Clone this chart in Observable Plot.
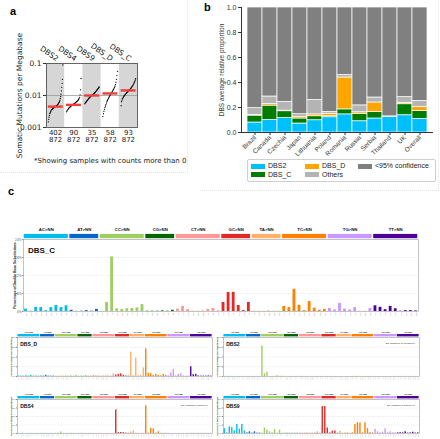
<!DOCTYPE html>
<html><head><meta charset="utf-8">
<script src="https://cdn.jsdelivr.net/npm/d3@7"></script>
<script src="https://cdn.jsdelivr.net/npm/@observablehq/plot@0.6"></script>
<style>
body{margin:0;background:#fff;}
#root{position:relative;width:440px;height:439px;overflow:hidden;font-family:"DejaVu Sans",sans-serif;background:#fff;}
.abs{position:absolute;}
.plab{position:absolute;font-weight:bold;font-family:"Liberation Sans",Arial,sans-serif;font-size:11px;color:#000;}
.sep{position:absolute;border-color:#e4e4e4;border-style:dotted;border-width:0;}
</style></head><body><div id="root"></div>
<script>
// ---------------- Panel a data ----------------
const tmbSigs = ["DBS2","DBS4","DBS9","DBS_D","DBS_C"];
const tmbNum = ["402","90","35","58","93"];
const tmbTotal = ["872","872","872","872","872"];
const tmbMedian = [0.0045,0.0051,0.010,0.0116,0.0144];
const tmbDBS2 = [0.0015,0.0018,0.0021,0.0024,0.0027,0.0029,0.0031,0.0033,0.0035,0.0036,0.0037,0.0038,0.0039,0.004,0.0041,0.0042,0.0043,0.0044,0.0045,0.0045,0.0046,0.0047,0.0048,0.0049,0.005,0.0052,0.0054,0.0056,0.0059,0.0062,0.0066,0.0072,0.008,0.0092,0.011,0.014,0.018,0.024,0.032,0.09];
const tmbDBS4 = [0.0031,0.0033,0.0035,0.0037,0.0039,0.0041,0.0042,0.0044,0.0045,0.0047,0.0048,0.005,0.0051,0.0052,0.0054,0.0055,0.0057,0.0058,0.006,0.0062,0.0064,0.0066,0.0068,0.0071,0.0075,0.008,0.0088,0.0105,0.015,0.034];
const tmbDBS9 = [0.0055,0.0058,0.006,0.0062,0.0065,0.0068,0.007,0.0073,0.0076,0.0079,0.0082,0.0085,0.0088,0.0091,0.0094,0.0097,0.0099,0.0101,0.0104,0.0107,0.011,0.0113,0.0116,0.012,0.0124,0.0128,0.0133,0.0138,0.0144,0.015,0.0157,0.0164,0.0171,0.0178,0.0185];
const tmbDBSD = [0.0022,0.0027,0.0032,0.0037,0.0042,0.0047,0.0052,0.0058,0.0064,0.007,0.0076,0.0082,0.0088,0.0094,0.01,0.0107,0.0114,0.0121,0.0128,0.0136,0.0145,0.0155,0.0167,0.018,0.0195,0.022,0.026,0.032,0.042,0.057];
const tmbDBSC = [0.0048,0.0064,0.0072,0.0078,0.0083,0.0088,0.0093,0.0097,0.0101,0.0105,0.0109,0.0113,0.0117,0.0121,0.0125,0.0129,0.0133,0.0138,0.0143,0.0148,0.0153,0.0158,0.0164,0.017,0.0177,0.0185,0.0194,0.0204,0.0215,0.0228,0.0243,0.026,0.028,0.0305,0.0336];
const tmbCaption = "*Showing samples with counts more than 0";
const tmbYLabel = "Somatic Mutations per Megabase";

// ---------------- Panel b data ----------------
const countries = ["Brazil","Canada","Czechia","Japan","Lithuania","Poland","Romania","Russia","Serbia","Thailand","UK","Overall"];
const propSigs = ["DBS2","DBS_C","DBS_D","Others","<95% confidence"];
const propColors = ["#00BFFF","#007C00","#FFA500","#B4B4B4","#808080"];
const propDBS2   = [0.080,0.100,0.115,0.072,0.098,0.122,0.145,0.090,0.112,0.125,0.138,0.108];
const propDBSC   = [0.055,0.115,0.055,0.040,0.032,0.008,0.040,0.060,0.053,0.000,0.088,0.063];
const propDBSD   = [0.005,0.012,0.005,0.012,0.015,0.020,0.255,0.012,0.075,0.000,0.012,0.032];
const propOthers = [0.055,0.061,0.070,0.022,0.115,0.015,0.020,0.055,0.040,0.004,0.045,0.050];
const propConf   = [0.805,0.712,0.755,0.854,0.740,0.835,0.540,0.783,0.720,0.871,0.717,0.747];
const propTicks = [0,0.2,0.4,0.6,0.8,1.0];
const propYLabel = "DBS average relative proportion";

// ---------------- Panel c data ----------------
const dbsCats = ["AC>NN","AT>NN","CC>NN","CG>NN","CT>NN","GC>NN","TA>NN","TC>NN","TG>NN","TT>NN"];
const dbsCatColors = ["#03BCEE","#0266CA","#A1CE63","#016601","#FF9898","#E22926","#FFB166","#FF8001","#CB98FD","#4C0199"];
const dbsChannelLabels = [
  ["CA","CG","CT","GA","GG","GT","TA","TG","TT"],
  ["CA","CC","CG","GA","GC","TA"],
  ["AA","AG","AT","GA","GG","GT","TA","TG","TT"],
  ["AT","GC","GT","TA","TC","TT"],
  ["AA","AC","AG","GA","GC","GG","TA","TC","TG"],
  ["AA","AG","AT","CA","CG","TA"],
  ["AT","CG","CT","GC","GG","GT"],
  ["AA","AG","AT","CA","CG","CT","GA","GG","GT"],
  ["AA","AC","AT","CA","CC","CT","GA","GC","GT"],
  ["AA","AC","AG","CA","CC","CG","GA","GC","GG"]
];
// percentages, 78 channels in order
const dbsC = [0.8,0.1,1.4,1.3,0.3,1.3,2.0,1.3,1.9, 0.4,0.05,0.1,0.3,0.1,0.7, 0.1,3.0,18.2,0.9,0.7,0.9,1.0,1.2,2.3, 0.1,0.1,0.1,0.2,0.1,0.4, 0.8,1.7,0.6,0.1,0.1,0.2,0.7,1.0,0.2, 3.0,6.3,6.4,2.0,0.3,3.0, 0.1,0.1,0.1,0.2,0.1,0.1, 1.7,1.3,7.4,2.1,0.3,3.3,1.1,0.4,0.7, 1.0,0.5,2.7,0.8,0.5,1.3,0.1,0.1,1.0, 1.9,1.4,0.6,1.7,0.9,0.1,0.3,0.3,0.2];
const dbsD = [0.3,0.2,0.2,0.4,0.2,0.6,0.2,0.3,0.2, 0.2,0.2,0.6,0.2,0.2,0.2, 0.2,0.2,0.3,0.2,0.3,0.2,0.4,0.2,0.6, 0.1,0.1,0.1,0.2,0.1,0.1, 0.6,0.4,0.3,0.2,0.3,0.4,0.3,0.2,1.3, 0.8,1.1,1.4,0.6,0.3,0.2, 12.5,0.4,9.4,0.4,0.6,4.4, 14.2,1.7,1.5,0.6,1.1,0.6,0.3,1.0,0.6, 0.3,1.8,3.7,0.3,1.1,1.4,0.3,0.2,0.3, 5.0,0.9,1.1,0.3,0.2,0.2,0.2,0.3,0.2];
const dbs2 = [0.3,0.1,0.3,0.2,0.1,0.2,0.1,0.2,0.2, 0.1,0.1,0.2,0.1,0.1,0.1, 78,7,11,0.5,0.3,0.5,2,0.5,0.8, 0.1,0.1,0.1,0.1,0.1,0.1, 0.5,0.3,0.3,0.2,0.2,0.2,0.2,0.2,0.2, 0.1,0.1,0.1,0.1,0.1,0.1, 0.1,0.1,0.1,0.1,0.1,0.1, 0.3,0.2,0.3,0.2,0.1,0.2,0.1,0.1,0.2, 0.2,0.1,0.2,0.1,0.1,0.2,0.1,0.1,0.1, 0.2,0.1,0.1,0.1,0.1,0.1,0.1,0.1,0.1];
const dbs4 = [0.2,0.1,0.2,0.1,0.1,0.2,0.1,0.1,0.1, 0.1,0.1,0.1,0.1,0.1,0.1, 0.3,0.4,1.8,0.2,0.2,0.2,0.3,0.2,0.2, 0.1,0.1,0.1,0.1,0.1,0.1, 0.2,0.1,0.2,0.1,0.1,0.1,0.2,0.1,0.2, 27.8,1.0,1.2,1.0,0.5,0.3, 1.8,3.2,0.3,0.2,0.2,0.2, 32.7,0.4,6.1,5.3,0.4,2.0,0.3,0.2,0.3, 0.2,0.1,0.1,0.1,0.1,0.1,0.1,0.1,0.1, 0.1,0.1,0.1,0.1,0.1,0.1,0.1,0.1,0.1];
const dbs9 = [2.3,0.3,3.1,2.8,1.2,4.3,2.0,4.3,1.2, 0.3,0.8,0.2,0.8,0.2,0.2, 0.2,2.6,1.6,0.8,0.3,1.9,0.2,1.6,0.2, 0.1,0.1,0.1,0.1,0.1,0.1, 0.2,0.2,0.2,0.3,0.2,0.2,0.3,0.8,0.2, 12.7,12.7,2.6,0.3,1.1,1.2, 0.3,1.1,0.2,0.3,0.4,0.2, 0.3,4.2,5.1,5.0,0.3,5.1,2.3,0.4,0.3, 1.9,0.8,0.3,0.6,2.2,0.4,0.8,0.3,0.3, 0.3,0.4,0.3,0.8,0.2,0.3,0.6,0.2,0.3];
const dbsNames = ["DBS_C","DBS_D","DBS2","DBS4","DBS9"];
const dbsSigText = ["","","Sig. Mutations: 10,178(55.2%)","Sig. Mutations: 1,058(5.8%)","Sig. Mutations: 5,083(17.9%)"];
const dbsYTicks = [[0,6,12,18,24],[0,5,10,15,20],[0,25,50,75,100],[0,10,20,30,40],[0,4,8,12,16]];
const yLabelC = "Percentage of Double Base Substitutions";

// ---------------- helpers ----------------
const root = document.getElementById("root");
function place(node, left, top){ node.style.position="absolute"; node.style.left=left+"px"; node.style.top=top+"px"; root.appendChild(node); return node; }
function div(html, left, top, cls, style){ const d=document.createElement("div"); d.className=cls||"abs"; d.innerHTML=html; if(style) Object.assign(d.style, style); return place(d,left,top); }

// separators
div("",0,0,"sep",{width:"187px",height:"172px",borderRightWidth:"1px",borderBottomWidth:"1px"});
div("",200,0,"sep",{width:"238px",height:"190px",borderRightWidth:"1px",borderBottomWidth:"1px"});

// ---------------- Panel a ----------------
{
  const series = [tmbDBS2,tmbDBS4,tmbDBS9,tmbDBSD,tmbDBSC];
  const pts = [];
  series.forEach((arr,g)=>arr.forEach((v,i)=>pts.push({x:g+0.1+0.8*i/(arr.length-1), y:v})));
  const groups = tmbSigs.map((s,g)=>({g, s, num:tmbNum[g], tot:tmbTotal[g], med:tmbMedian[g]}));
  const plot = Plot.plot({
    width:190, height:172, marginLeft:46, marginRight:53, marginTop:63, marginBottom:45,
    x:{domain:[0,5], axis:null},
    y:{type:"log", domain:[0.001,0.1], axis:null},
    style:{fontFamily:"DejaVu Sans, sans-serif", fontSize:"7.5px", color:"#222", background:"transparent", overflow:"visible"},
    marks:[
      Plot.rect(groups.filter(d=>d.g%2===0), {x1:d=>d.g, x2:d=>d.g+1, y1:0.001, y2:0.1, fill:"#d6d6d6"}),
      Plot.ruleY([0.01], {stroke:"#9a9a9a", strokeWidth:0.8}),
      Plot.dot(pts, {x:"x", y:"y", r:0.65, fill:"#000", stroke:null}),
      Plot.ruleY(groups, {x1:d=>d.g+0.1, x2:d=>d.g+0.92, y:"med", stroke:"#f03c3c", strokeWidth:2.4}),
      Plot.frame({stroke:"#555", strokeWidth:0.9}),
      Plot.axisY({ticks:[0.1,0.01,0.001], tickFormat:d=>String(d), tickSize:3, tickPadding:2, fontSize:7.5, label:null, stroke:"#333"}),
      Plot.text(groups, {x:d=>d.g+0.5, y:0.1, text:"s", rotate:35, textAnchor:"end", dy:-4, dx:2, fontSize:7.5}),
      Plot.text(groups, {x:d=>d.g+0.5, y:0.001, text:"num", dy:5, fontSize:7, ariaLabel:"num"}),
      Plot.text(groups, {x:d=>d.g+0.5, y:0.001, text:"tot", dy:12.5, fontSize:7}),
      Plot.text([tmbYLabel], {frameAnchor:"left", textAnchor:"middle", rotate:-90, dx:-27, fontSize:7.5})
    ]
  });
  d3.select(plot).selectAll('g[aria-label="num"] text').style("text-decoration","underline");
  place(plot,0,0);
  div(tmbCaption,34,157,"abs",{fontSize:"7px",color:"#222",whiteSpace:"nowrap",lineHeight:"9px"});
  div("a",10,5,"plab");
}

// ---------------- Panel b ----------------
{
  const cols = [propDBS2,propDBSC,propDBSD,propOthers,propConf];
  const long = [];
  countries.forEach((c,i)=>propSigs.forEach((s,k)=>long.push({country:c, sig:s, k, v:cols[k][i]})));
  const plot = Plot.plot({
    width:240, height:160, marginLeft:41, marginRight:8, marginTop:7, marginBottom:28,
    x:{domain:countries, paddingInner:0.03, paddingOuter:0.3, axis:null},
    y:{domain:[0,1], axis:null},
    color:{domain:propSigs, range:propColors},
    style:{fontFamily:"Liberation Sans, Arial, sans-serif", fontSize:"7px", color:"#333", background:"transparent", overflow:"visible"},
    marks:[
      Plot.barY(long, {x:"country", y:"v", fill:"sig", order:"k", stroke:"white", strokeWidth:0.7}),
      Plot.axisY({ticks:propTicks, tickFormat:d=>d.toFixed(1), tickSize:3, tickPadding:2, fontSize:7, label:null}),
      Plot.axisX({tickRotate:-45, tickSize:3, tickPadding:1, fontSize:6.5, label:null}),
      Plot.frame({anchor:"left", stroke:"#333"}),
      Plot.frame({anchor:"bottom", stroke:"#333"}),
      Plot.text([propYLabel], {frameAnchor:"left", textAnchor:"middle", rotate:-90, dx:-20, fontSize:6.5})
    ]
  });
  place(plot,200,0);
  div("b",204,1,"plab");
  // legend
  const leg = document.createElement("div");
  Object.assign(leg.style,{position:"absolute",left:"247px",top:"159px",width:"189px",height:"23px",border:"1px solid #d0d0d0",borderRadius:"2px",fontFamily:"Liberation Sans, Arial, sans-serif",fontSize:"7px",color:"#222",boxSizing:"border-box"});
  // [signature index, swatch left, row center]
  const items = [[0,3,6],[2,57,6],[4,110,6],[1,3,14.5],[3,57,14.5]];
  items.forEach(([k,x,cy])=>{
    const sw=document.createElement("div");
    Object.assign(sw.style,{position:"absolute",left:x+"px",top:(cy-2.5)+"px",width:"14px",height:"5px",background:propColors[k]});
    leg.appendChild(sw);
    const tx=document.createElement("div");
    Object.assign(tx.style,{position:"absolute",left:(x+17)+"px",top:(cy-4)+"px",whiteSpace:"nowrap",lineHeight:"8px"});
    tx.textContent=propSigs[k]; leg.appendChild(tx);
  });
  root.appendChild(leg);
}

// ---------------- Panel c ----------------
function channels(values){
  const out=[]; let i=0;
  dbsChannelLabels.forEach((labs,c)=>labs.forEach(l=>{out.push({i, cat:dbsCats[c], color:dbsCatColors[c], label:l, v:values[i]}); i++;}));
  return out;
}
function catSpans(){
  const out=[]; let s=0;
  dbsCats.forEach((c,k)=>{const n=dbsChannelLabels[k].length; out.push({c, s, n, color:dbsCatColors[k]}); s+=n;});
  return out;
}
function dbsPanel(o){
  const ch = channels(o.values);
  const spans = catSpans();
  const ymax = o.ticks[o.ticks.length-1];
  const frameH = o.height - o.mt - o.mb;
  const u = ymax/frameH; // value per pixel
  return Plot.plot({
    width:o.width, height:o.height, marginLeft:o.ml, marginRight:o.mr, marginTop:o.mt, marginBottom:o.mb,
    x:{domain:[0,78], axis:null},
    y:{domain:[0,ymax], axis:null},
    style:{fontFamily:"Liberation Sans, Arial, sans-serif", background:"transparent", overflow:"visible"},
    marks:[
      Plot.gridY(o.ticks.slice(1,-1), {stroke:"#c8c8c8", strokeOpacity:1, strokeDasharray:"1,1.5", strokeWidth:0.5}),
      Plot.rectY(ch, {x1:d=>d.i+0.22, x2:d=>d.i+0.78, y:"v", fill:"color"}),
      Plot.rect(spans, {x1:d=>d.s+0.15, x2:d=>d.s+d.n-0.15, y1:ymax+u*o.hGap, y2:ymax+u*(o.hGap+o.hH), fill:"color"}),
      Plot.text(spans, {x:d=>d.s+d.n/2, y:ymax+u*(o.hGap+o.hH), text:"c", dy:-o.hfs*1.0, fontSize:o.hfs, fontWeight:"bold", fill:"#111"}),
      Plot.text(ch, {x:d=>d.i+0.5, y:0, text:"label", rotate:-90, textAnchor:"end", dy:0.8, fontSize:o.xfs, fill:"#888"}),
      Plot.axisY({ticks:o.ticks, tickFormat:d=>d+"%", tickSize:1, tickPadding:1, fontSize:o.yfs, label:null, fill:"#555", stroke:"#888"}),
      Plot.text([o.ylabel], {frameAnchor:"left", textAnchor:"middle", rotate:-90, dx:-o.ylo, fontSize:o.ylfs, fontWeight:"bold", fill:"#222"}),
      Plot.text([o.name], {frameAnchor:"top-left", textAnchor:"start", dx:o.nfs*0.55, dy:o.nfs*0.95, fontSize:o.nfs, fontWeight:"bold", fill:"#111"}),
      Plot.text([o.sig], {frameAnchor:"top-right", textAnchor:"end", dx:-o.sfs*2, dy:o.sfs*2.2, fontSize:o.sfs, fill:"#222"}),
      Plot.frame({stroke:"#999", strokeWidth:0.6})
    ]
  });
}
div("c",8,185,"plab");
place(dbsPanel({values:dbsC, name:dbsNames[0], sig:dbsSigText[0], ticks:dbsYTicks[0], ylabel:yLabelC,
  width:440, height:100, ml:23, mr:22, mt:17, mb:11, hGap:0.8, hH:4.3, hfs:4.3, xfs:2.4, yfs:3.2, ylfs:3.4, ylo:8.5, nfs:8, sfs:3}), 0, 222);
const small = {hGap:0.6, hH:2.4, hfs:2.4, xfs:1.6, yfs:2, ylfs:2, ylo:6, nfs:5, sfs:2.2};
place(dbsPanel(Object.assign({values:dbsD, name:dbsNames[1], sig:dbsSigText[1], ticks:dbsYTicks[1], ylabel:yLabelC,
  width:220, height:54, ml:17, mr:8, mt:9, mb:6}, small)), 0, 328);
place(dbsPanel(Object.assign({values:dbs2, name:dbsNames[2], sig:dbsSigText[2], ticks:dbsYTicks[2], ylabel:yLabelC,
  width:225, height:54, ml:8, mr:21, mt:9, mb:6}, small)), 215, 328);
place(dbsPanel(Object.assign({values:dbs4, name:dbsNames[3], sig:dbsSigText[3], ticks:dbsYTicks[3], ylabel:yLabelC,
  width:220, height:48, ml:17, mr:8, mt:9, mb:5}, small)), 0, 390);
place(dbsPanel(Object.assign({values:dbs9, name:dbsNames[4], sig:dbsSigText[4], ticks:dbsYTicks[4], ylabel:yLabelC,
  width:225, height:48, ml:8, mr:21, mt:9, mb:5}, small)), 215, 390);
</script></body></html>
